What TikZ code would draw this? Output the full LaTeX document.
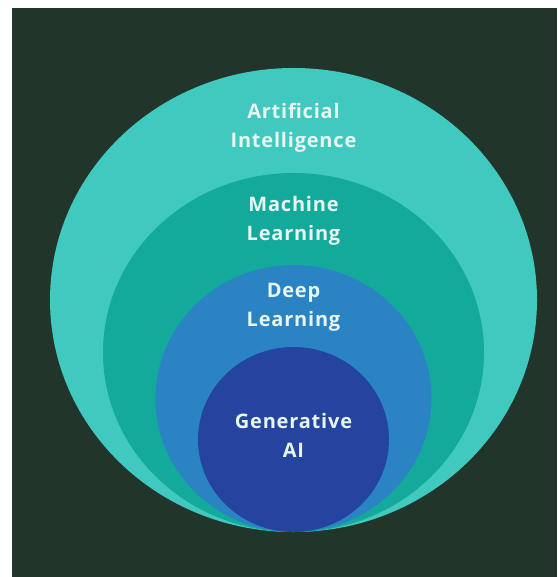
\documentclass[tikz,border=0pt]{standalone}
\usepackage{fontspec}
\setmainfont{Open Sans}[LetterSpace=4]
\usetikzlibrary{shapes.geometric}
\definecolor{bgdark}{RGB}{34,53,42}
\definecolor{aicol}{RGB}{64,201,191}
\definecolor{mlcol}{RGB}{20,170,155}
\definecolor{dlcol}{RGB}{42,132,196}
\definecolor{gencol}{RGB}{36,68,160}
\definecolor{txtcol}{RGB}{232,246,242}
\begin{document}
\begin{tikzpicture}[x=1pt,y=-1pt,
  layer/.style={ellipse, inner sep=0pt, draw=none},
  lbl/.style={text=txtcol, font=\bfseries\fontsize{20}{29}\selectfont, align=center, inner sep=0pt}]
\useasboundingbox (0,0) rectangle (557,577);
\fill[white] (0,0) rectangle (557,577);
\fill[bgdark] (12,8) rectangle (557,577);
\node[layer, fill=aicol, minimum width=487pt, minimum height=464pt] (ai) at (293.5,300) {};
\node[layer, fill=mlcol, minimum width=381pt, minimum height=359pt] (ml) at (293.5,352.5) {};
\node[layer, fill=dlcol, minimum width=276pt, minimum height=267pt] (dl) at (293.5,398.5) {};
\node[layer, fill=gencol, minimum width=191pt, minimum height=185pt] (gen) at (293.5,439.5) {};
\node[lbl] (tai) at (293.5,127.5) {Artificial\\Intelligence};
\node[lbl] (tml) at (293.5,221) {Machine\\Learning};
\node[lbl] (tdl) at (293.5,307.5) {Deep\\Learning};
\node[lbl] (tgen) at (293.5,435) {Generative\\AI};
\end{tikzpicture}
\end{document}
